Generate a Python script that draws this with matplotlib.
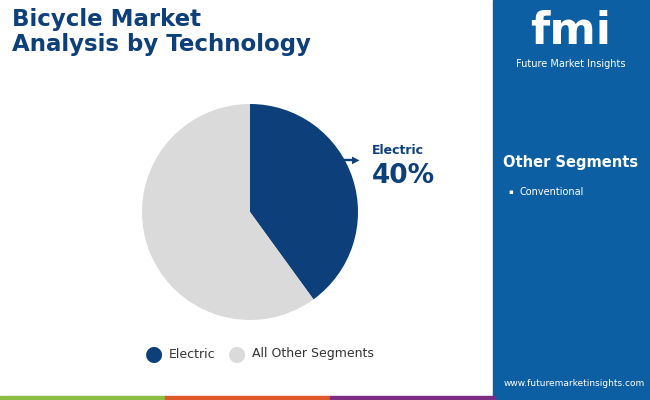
import matplotlib.pyplot as plt
from matplotlib.patches import Rectangle

categories = ["Electric", "All Other Segments"]
shares = [40, 60]
colors = ["#0d3f7a", "#dadada"]
other_segments = ["Conventional"]

W, H = 650, 400
fig = plt.figure(figsize=(6.5, 4), dpi=100)
fig.patch.set_facecolor("white")

def fx(x):
    return x / W

def fy(y):
    return 1 - y / H

# right panel
fig.patches.append(Rectangle((fx(493), 0), 1 - fx(493), 1, transform=fig.transFigure,
                             color="#0b5fa2", zorder=0))
# bottom strip
for x0, c in [(0, "#8bbd43"), (165, "#e0592a"), (330, "#7d2d83")]:
    fig.patches.append(Rectangle((fx(x0), 0), fx(165), 4 / H, transform=fig.transFigure,
                                 color=c, zorder=1))

fig.text(fx(12), fy(8), "Bicycle Market\nAnalysis by Technology", fontsize=16.5,
         fontweight="bold", color="#0d3f7a", va="top", ha="left", linespacing=1.1)

# pie
ax = fig.add_axes([fx(250 - 108), fy(212 + 108), fx(216), 216 / H])
ax.pie(shares, colors=colors, startangle=90, counterclock=False,
       wedgeprops=dict(linewidth=0))
ax.set_xlim(-1, 1)
ax.set_ylim(-1, 1)
ax.set_aspect("equal")

fig.patches.append(Rectangle((fx(342), fy(160)), fx(10), 1.5 / H, transform=fig.transFigure,
                             color="#0d3f7a"))
fig.text(fx(352), fy(160), "\u25B6", fontsize=7, color="#0d3f7a", va="center", ha="left")
fig.text(fx(372), fy(150), categories[0], fontsize=9, fontweight="bold",
         color="#0d3f7a", va="center")
fig.text(fx(372), fy(176), f"{shares[0]}%", fontsize=19, fontweight="bold",
         color="#0d3f7a", va="center")

# legend
for lx, lab, c in [(154, categories[0], colors[0]), (237, categories[1], colors[1])]:
    fig.text(fx(lx), fy(354), "\u25CF", fontsize=15, color=c, ha="center", va="center")
    fig.text(fx(lx + 15), fy(354), lab, fontsize=9, color="#333333", va="center")

# right panel text
fig.text(fx(571), fy(32), "fmi", fontsize=32, fontweight="bold", color="white",
         ha="center", va="center")
fig.text(fx(571), fy(64), "Future Market Insights", fontsize=7, color="white",
         ha="center", va="center")
fig.text(fx(571), fy(163), "Other Segments", fontsize=10.5, fontweight="bold",
         color="white", ha="center", va="center")
for i, s in enumerate(other_segments):
    fig.text(fx(508), fy(192 + 16 * i), "\u25AA", fontsize=5, color="white", va="center")
    fig.text(fx(519), fy(192 + 16 * i), s, fontsize=7, color="white", va="center")
fig.text(fx(645), fy(383), "www.futuremarketinsights.com", fontsize=6.5, color="white",
         ha="right", va="center")

fig.savefig("out.png", dpi=100)
